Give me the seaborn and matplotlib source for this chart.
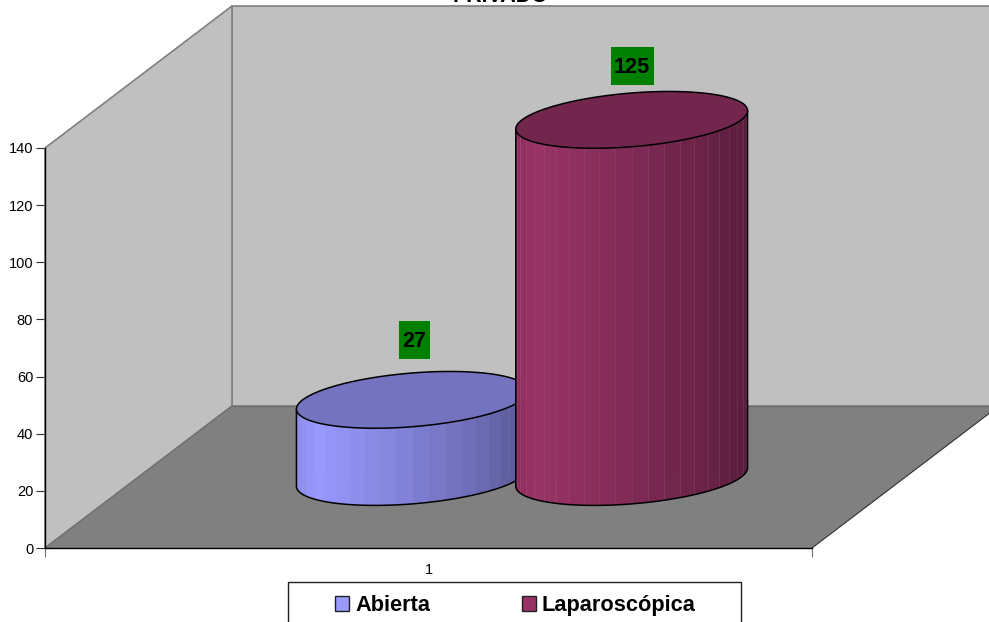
import numpy as np
import pandas as pd
import matplotlib
matplotlib.use("Agg")
import matplotlib.pyplot as plt
from matplotlib.patches import Patch, Polygon, Rectangle
from matplotlib.ticker import FixedLocator
import seaborn as sns

# Chart data
categories = ["1"]
series_names = ["Abierta", "Laparoscópica"]
series_values = [27, 125]
series_colors = ["#9999FF", "#993366"]
chart_title = "PRIVADO"
value_ticks = [0, 20, 40, 60, 80, 100, 120, 140]

sns.set_theme(style="white")
plt.rcParams["font.family"] = ["Liberation Sans", "DejaVu Sans"]

WIDTH, HEIGHT = 989, 622
fig = plt.figure(figsize=(WIDTH / 100, HEIGHT / 100), dpi=100, facecolor="white")
ax = fig.add_axes([45 / WIDTH, (HEIGHT - 548) / HEIGHT, 767 / WIDTH, 400 / HEIGHT])

frame = pd.DataFrame({
    "category": categories * len(series_names),
    "series": series_names,
    "value": series_values,
})
sns.barplot(data=frame, x="category", y="value", hue="series", hue_order=series_names,
            palette=series_colors, saturation=1, width=0.572, gap=0, legend=False,
            ax=ax, zorder=3)

ax.set_xlim(-0.5, 0.5)
ax.set_ylim(0, 140)
ax.patch.set_visible(False)
ax.set_xlabel("")
ax.set_ylabel("")

# Data units per screen pixel, and the oblique depth of the 3-D box
PX_X = 1 / 767
PX_Y = 140 / 400
DEPTH_X = 187 * PX_X
DEPTH_Y = 142 * PX_Y
x0, x1 = ax.get_xlim()
y0, y1 = ax.get_ylim()

WALL = "#C0C0C0"
FLOOR = "#808080"
EDGE = "#808080"

# Back wall, side wall and floor of the box
ax.add_patch(Polygon([(x0 + DEPTH_X, y0 + DEPTH_Y), (x1 + DEPTH_X, y0 + DEPTH_Y),
                      (x1 + DEPTH_X, y1 + DEPTH_Y), (x0 + DEPTH_X, y1 + DEPTH_Y)],
                     closed=True, facecolor=WALL, edgecolor=EDGE, lw=1.2, clip_on=False, zorder=0.5))
ax.add_patch(Polygon([(x0, y0), (x0 + DEPTH_X, y0 + DEPTH_Y), (x0 + DEPTH_X, y1 + DEPTH_Y), (x0, y1)],
                     closed=True, facecolor=WALL, edgecolor=EDGE, lw=1.2, clip_on=False, zorder=0.6))
ax.add_patch(Polygon([(x0, y0), (x1, y0), (x1 + DEPTH_X, y0 + DEPTH_Y), (x0 + DEPTH_X, y0 + DEPTH_Y)],
                     closed=True, facecolor=FLOOR, edgecolor="none", clip_on=False, zorder=0.7))
ax.plot([x1, x1 + DEPTH_X], [y0, y0 + DEPTH_Y], color="#303030", lw=0.8, clip_on=False, zorder=0.8)
ax.plot([x0, x0 + DEPTH_X], [y0, y0 + DEPTH_Y], color="#707070", lw=0.9, clip_on=False, zorder=0.8)
ax.plot([x0 + DEPTH_X, x1 + DEPTH_X], [y0 + DEPTH_Y] * 2, color="#707070", lw=1.0, clip_on=False, zorder=0.8)

# Each cylinder's footprint is a circle on the sheared floor
RADIUS_DEPTH = 0.2
FACETS = 22
SHADE_POS = [0.0, 0.09, 0.45, 0.75, 1.0]
SHADE_VAL = [0.92, 1.0, 0.85, 0.72, 0.58]
LABEL_LIFT = [(2, 60), (0.5, 54)]
BOX_SIZE = [(31, 38), (43, 38)]
TEXT_RISE = 1


def rim(cx, cy, half, t):
    return (cx + half * np.cos(t) + RADIUS_DEPTH * DEPTH_X * np.sin(t),
            cy + RADIUS_DEPTH * DEPTH_Y * np.sin(t))


for index, container in enumerate(ax.containers):
    bar = container[0]
    value = bar.get_height()
    half = bar.get_width() / 2
    cx = bar.get_x() + half + DEPTH_X / 2
    cy = bar.get_y() + DEPTH_Y / 2
    top = cy + value
    layer = 3 + index
    base_rgb = np.array(matplotlib.colors.to_rgb(series_colors[index]))

    # The seaborn bar moves to mid-depth and forms the cylinder's core
    bar.set_x(cx - half)
    bar.set_y(cy)
    bar.set_zorder(layer)
    bar.set_linewidth(0)
    bar.set_clip_on(False)

    # Silhouette angles: where the rim reaches its horizontal extremes
    t_right = np.arctan2(RADIUS_DEPTH * DEPTH_X, half)
    t_left = t_right - np.pi
    edges = np.linspace(t_right, t_left, FACETS + 1)
    xs_right = rim(cx, cy, half, t_right)[0]
    xs_left = rim(cx, cy, half, t_left)[0]

    # Shaded facets on the visible side of the cylinder
    for a, b in zip(edges[:-1], edges[1:]):
        arc = np.linspace(a, b, 5)
        ax_, ay_ = rim(cx, cy, half, arc)
        u = (ax_.mean() - xs_left) / (xs_right - xs_left)
        shade = np.interp(u, SHADE_POS, SHADE_VAL)
        colour = np.clip(base_rgb * shade, 0, 1)
        pts = np.r_[np.c_[ax_, ay_], np.c_[ax_[::-1], ay_[::-1] + value]]
        ax.add_patch(Polygon(pts, closed=True, facecolor=colour, edgecolor=colour, lw=0.3,
                             clip_on=False, zorder=layer + 0.1))
    for a in edges[1:-1]:
        ex, ey = rim(cx, cy, half, a)
        ax.plot([ex, ex], [ey, ey + value], color="white",
                alpha=0.09 if index else 0.03, lw=0.5, clip_on=False, zorder=layer + 0.2)

    # Top cap and outline
    ring = np.linspace(0, 2 * np.pi, 240)
    rx, ry = rim(cx, cy, half, ring)
    ax.add_patch(Polygon(np.c_[rx, ry + value], closed=True, facecolor=base_rgb * 0.75,
                         edgecolor="black", lw=1.1, clip_on=False, zorder=layer + 0.4))
    front = np.linspace(t_right, t_left, 120)
    fx, fy = rim(cx, cy, half, front)
    ax.plot(np.r_[fx[0], fx, fx[-1]], np.r_[fy[0] + value, fy, fy[-1] + value],
            color="black", lw=1.1, clip_on=False, zorder=layer + 0.3)

    # Value label on a green plate above the cap
    lift_x, lift_y = LABEL_LIFT[index]
    box_w, box_h = BOX_SIZE[index]
    lx = cx + lift_x * PX_X
    ly = top + lift_y * PX_Y
    ax.add_patch(Rectangle((lx - box_w * PX_X / 2, ly - box_h * PX_Y / 2), box_w * PX_X, box_h * PX_Y,
                           facecolor="#008000", edgecolor="none", clip_on=False, zorder=6))
    ax.text(lx, ly + TEXT_RISE * PX_Y, f"{value:g}", ha="center", va="center_baseline", fontsize=15.6,
            fontweight="bold", color="black", zorder=7, clip_on=False)

# Axes
for side in ("top", "right"):
    ax.spines[side].set_visible(False)
for side in ("left", "bottom"):
    ax.spines[side].set_color("black")
    ax.spines[side].set_linewidth(1.0)
ax.set_yticks(value_ticks)
ax.tick_params(axis="y", left=True, length=6.5, width=0.8, color="#303030",
               labelsize=10.5, labelcolor="black", pad=2)
ax.tick_params(axis="x", which="major", bottom=False, labelsize=10.5, labelcolor="black", pad=4.8)
ax.xaxis.set_minor_locator(FixedLocator([x0, x1]))
ax.tick_params(axis="x", which="minor", bottom=True, length=6.5, width=0.8, color="#707070")

# Title, cut by the top of the canvas
fig.text(501 / WIDTH, (HEIGHT - 2.5) / HEIGHT, chart_title, ha="center", va="baseline",
         fontsize=15.5, fontweight="bold", color="black")

# Legend frame runs past the bottom of the canvas
fig.add_artist(Rectangle((288 / WIDTH, -0.02), 453 / WIDTH, (HEIGHT - 582) / HEIGHT + 0.02,
                         transform=fig.transFigure, facecolor="white", edgecolor="#202020", lw=1.0))
handles = [Patch(facecolor=c, edgecolor="#202020", lw=1.0, label=n)
           for c, n in zip(series_colors, series_names)]
fig.legend(handles=handles, ncol=2, frameon=False, loc="upper left",
           bbox_to_anchor=(335 / WIDTH, (HEIGHT - 595) / HEIGHT), borderpad=0, borderaxespad=0,
           prop={"size": 15.7, "weight": "bold"}, handlelength=0.66, handleheight=0.66,
           handletextpad=0.26, columnspacing=4.2, labelcolor="black")

fig.savefig("out.png", dpi=100)
